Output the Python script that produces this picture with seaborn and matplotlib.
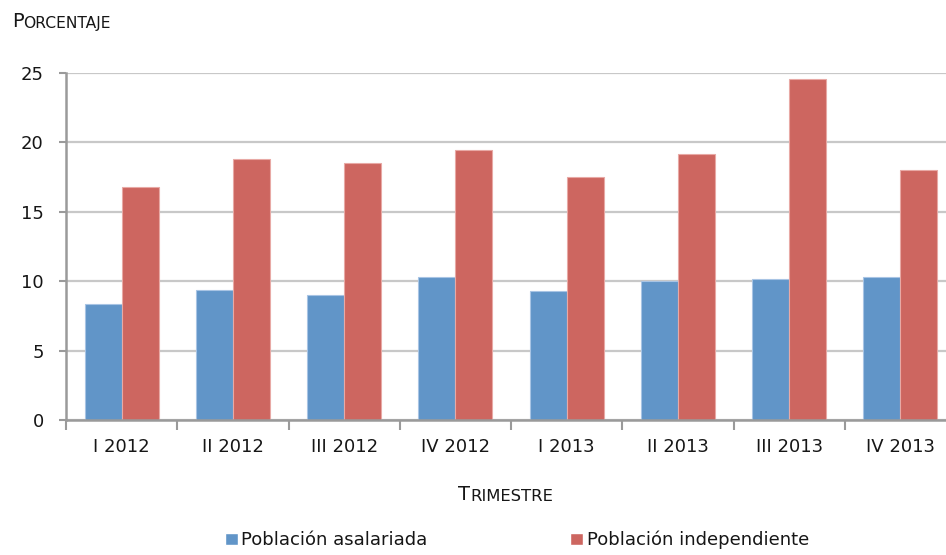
import matplotlib
matplotlib.use('Agg')
import matplotlib.pyplot as plt
import seaborn as sns
import numpy as np
import pandas as pd


trimestres = ['I 2012', 'II 2012', 'III 2012', 'IV 2012',
              'I 2013', 'II 2013', 'III 2013', 'IV 2013']
asalariada = [8.36, 9.37, 9.0, 10.3, 9.32, 10.04, 10.13, 10.28]
independiente = [16.79, 18.78, 18.52, 19.45, 17.48, 19.14, 24.54, 18.01]
series = ['Población asalariada', 'Población independiente']
colores = ['#6195C8', '#CD6660']
bordes = ['#A8C4E4', '#E8A9A5']

df = pd.DataFrame({
    'trimestre': trimestres * 2,
    'valor': asalariada + independiente,
    'serie': [series[0]] * len(trimestres) + [series[1]] * len(trimestres),
})

sns.set_theme(style='white')
plt.rcParams['font.family'] = ['DejaVu Sans']
texto = '#161616'
gris = '#9A9A9A'

fig = plt.figure(figsize=(9.46, 5.55), dpi=100)
ax = fig.add_axes([66 / 946, 135 / 555, 880 / 946, 347 / 555])

sns.barplot(data=df, x='trimestre', y='valor', hue='serie', order=trimestres,
            hue_order=series, palette=colores, width=0.665, saturation=1,
            ax=ax, legend=True)

# borde claro de las barras, como en el original
for cont, borde in zip(ax.containers, bordes):
    for p in cont:
        p.set_edgecolor(borde)
        p.set_linewidth(0.8)

ax.set_yticks(np.arange(0, 26, 5))
ax.set_xticks(np.arange(-0.5, 8, 1), minor=True)
# los límites van después de los ticks (set_xticks los ensancha)
ax.set_ylim(0, 25)
ax.set_xlim(-0.5, 7.41)
ax.yaxis.grid(True, color='#C8C8C8', lw=1.6)
ax.set_axisbelow(True)

for s in ['top', 'right']:
    ax.spines[s].set_visible(False)
for s in ['left', 'bottom']:
    ax.spines[s].set_color(gris)
    ax.spines[s].set_linewidth(1.8)

ax.tick_params(axis='y', direction='out', length=5, width=1.5, color=gris,
               labelcolor=texto, labelsize=13, pad=11, left=True)
ax.tick_params(axis='x', which='major', length=0, labelcolor=texto,
               labelsize=13, pad=13)
ax.tick_params(axis='x', which='minor', direction='out', length=7, width=1.5,
               color=gris, bottom=True)
ax.set_xlabel('')
ax.set_ylabel('')


def versalitas(x, y, palabra, grande, chica):
    t = fig.text(x, y, palabra[0], fontsize=grande, color=texto,
                 ha='left', va='bottom')
    ax.annotate(palabra[1:].upper(), xy=(1, 0), xycoords=t, fontsize=chica,
                color=texto, ha='left', va='bottom', annotation_clip=False)


versalitas(12 / 946, 1 - 31 / 555, 'Porcentaje', 14, 11.2)
versalitas(458 / 946, 1 - 504 / 555, 'Trimestre', 14, 11.8)

handles, labels = ax.get_legend_handles_labels()
ax.get_legend().remove()
fig.legend(handles, labels, loc='center', ncol=2,
           bbox_to_anchor=(517 / 946, 1 - 540 / 555),
           bbox_transform=fig.transFigure, frameon=False, fontsize=13,
           handlelength=0.7, handleheight=0.7, handletextpad=0.2,
           columnspacing=7.9, labelcolor=texto)

fig.savefig('out.png', dpi=100)
